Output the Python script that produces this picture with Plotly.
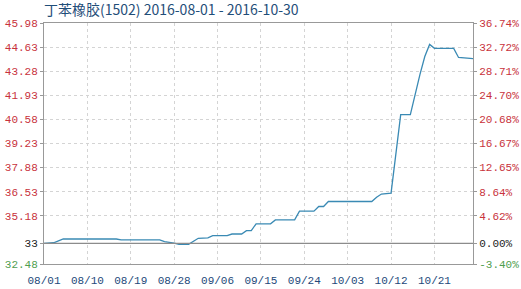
import plotly.graph_objects as go

title_text = "丁苯橡胶(1502) 2016-08-01 - 2016-10-30"

dates = ["2016-08-01", "2016-08-03", "2016-08-05", "2016-08-16", "2016-08-17",
         "2016-08-25", "2016-08-26", "2016-08-27", "2016-08-28", "2016-08-29",
         "2016-08-31", "2016-09-02", "2016-09-04", "2016-09-05", "2016-09-08",
         "2016-09-09", "2016-09-11", "2016-09-12", "2016-09-13", "2016-09-14",
         "2016-09-17", "2016-09-18", "2016-09-22", "2016-09-23", "2016-09-26",
         "2016-09-27", "2016-09-28", "2016-09-29", "2016-10-08", "2016-10-09",
         "2016-10-10", "2016-10-12", "2016-10-14", "2016-10-16", "2016-10-17",
         "2016-10-18", "2016-10-19", "2016-10-20", "2016-10-21", "2016-10-25",
         "2016-10-26", "2016-10-29"]
prices = [33.63, 33.67, 33.88, 33.88, 33.83,
          33.83, 33.73, 33.70, 33.65, 33.58,
          33.58, 33.92, 33.94, 34.07, 34.07,
          34.16, 34.16, 34.35, 34.35, 34.73,
          34.73, 34.95, 34.95, 35.44, 35.44,
          35.70, 35.70, 35.98, 35.98, 36.22,
          36.40, 36.45, 40.85, 40.85, 42.00,
          43.10, 44.10, 44.78, 44.56, 44.56,
          44.05, 43.99]

base_price = 33.63
y_tick_vals = [32.48, 33.63, 35.18, 36.53, 37.88, 39.23, 40.58, 41.93, 43.28, 44.63, 45.98]
y_left_labels = ["32.48", "33", "35.18", "36.53", "37.88", "39.23", "40.58", "41.93", "43.28", "44.63", "45.98"]
y_right_labels = ["-3.40%", "0.00%", "4.62%", "8.64%", "12.65%", "16.67%", "20.68%", "24.70%", "28.71%", "32.72%", "36.74%"]

x_tick_vals = ["2016-08-01", "2016-08-10", "2016-08-19", "2016-08-28", "2016-09-06",
               "2016-09-15", "2016-09-24", "2016-10-03", "2016-10-12", "2016-10-21"]
x_tick_labels = ["08/01", "08/10", "08/19", "08/28", "09/06",
                 "09/15", "09/24", "10/03", "10/12", "10/21"]

RED = "#c8323c"
GREEN = "#4f9e4f"
BLACK = "#222222"


def colored(labels, vals):
    out = []
    for lab, v in zip(labels, vals):
        if abs(v - base_price) < 1e-9:
            c = BLACK
        elif v < base_price:
            c = GREEN
        else:
            c = RED
        out.append(f'<span style="color:{c}">{lab}</span>')
    return out


fig = go.Figure()
fig.add_trace(go.Scatter(x=dates, y=prices, mode="lines",
                         line=dict(color="#3a8ab4", width=1.3),
                         showlegend=False, hoverinfo="skip"))
# invisible trace to anchor right axis
fig.add_trace(go.Scatter(x=[dates[0]], y=[prices[0]], yaxis="y2", mode="lines",
                         line=dict(width=0), showlegend=False, hoverinfo="skip"))

y_range = [y_tick_vals[0], y_tick_vals[-1]]
grid_col = "#d4d4d4"
axis_font = dict(family="Liberation Mono", size=11)

fig.update_layout(
    width=521, height=289,
    margin=dict(l=44, r=48, t=23, b=25, autoexpand=False),
    paper_bgcolor="white", plot_bgcolor="white",
    title=dict(text=title_text, x=0, xref="paper", xanchor="left",
               y=1 - 10.5 / 289, yref="container", yanchor="middle",
               font=dict(family="Noto Sans CJK SC", size=14, color="#1f4e79")),
    xaxis=dict(type="date", range=["2016-08-01", "2016-10-29"],
               tickvals=x_tick_vals, ticktext=x_tick_labels, automargin=False,
               tickfont=dict(family="Liberation Mono", size=11, color="#23497a"),
               showgrid=True, gridcolor=grid_col, griddash="dot", gridwidth=1,
               showline=True, linecolor="#999999", linewidth=1, mirror=True,
               ticks="outside", ticklen=6, tickcolor="rgba(0,0,0,0)", zeroline=False),
    yaxis=dict(range=y_range, tickvals=y_tick_vals, automargin=False,
               ticktext=colored(y_left_labels, y_tick_vals),
               tickfont=axis_font,
               showgrid=True, gridcolor=grid_col, griddash="dot", gridwidth=1,
               showline=True, linecolor="#999999", linewidth=1, mirror=True,
               ticks="outside", ticklen=3, tickcolor="#999999", zeroline=False),
    yaxis2=dict(range=y_range, tickvals=y_tick_vals, automargin=False,
                ticktext=colored(y_right_labels, y_tick_vals),
                tickfont=axis_font, overlaying="y", side="right",
                showgrid=False, showline=False,
                ticks="outside", ticklen=3, tickcolor="#999999", zeroline=False),
    shapes=[dict(type="line", xref="paper", x0=0, x1=1, yref="y",
                 y0=base_price, y1=base_price,
                 line=dict(color="#8c8c8c", width=1.2), layer="above")],
)

fig.write_html("out.html")
